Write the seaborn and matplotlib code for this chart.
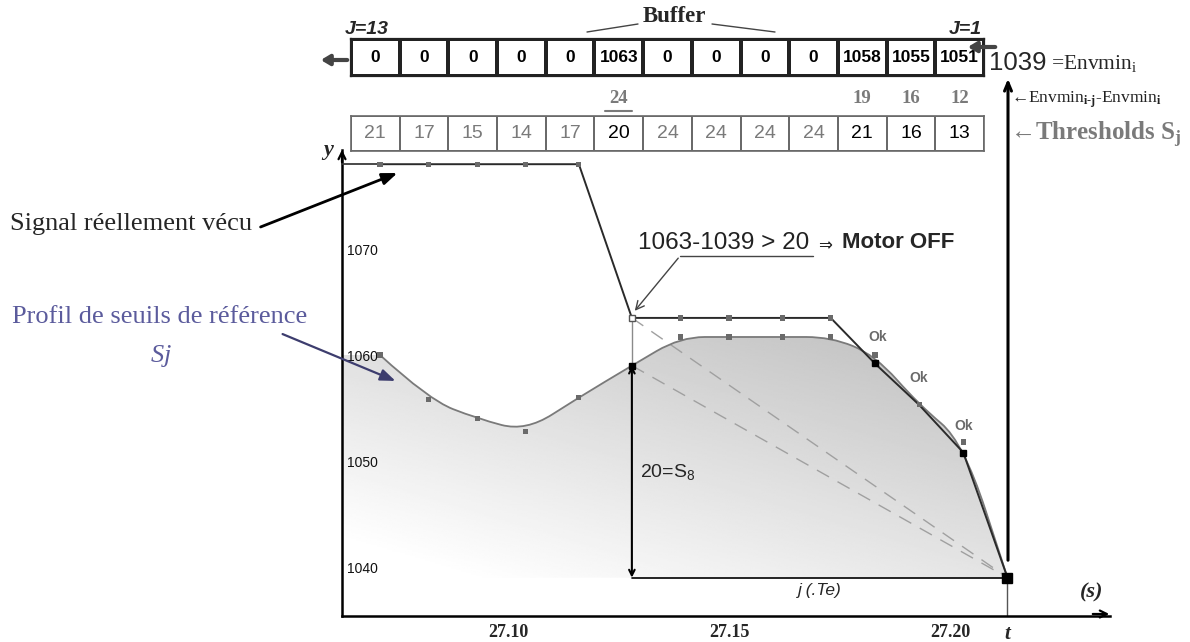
import numpy as np
import matplotlib
matplotlib.use("Agg")
import matplotlib.pyplot as plt
import seaborn as sns
from matplotlib.colors import ListedColormap
from matplotlib.path import Path
from matplotlib.patches import PathPatch

# ── data ─────────────────────────────
t_s = [27.071, 27.082, 27.093, 27.104, 27.116, 27.128, 27.139,
       27.150, 27.162, 27.173, 27.183, 27.193, 27.203, 27.213]
signal = [1078, 1078, 1078, 1078, 1078, 1063.5, 1063.5,
          1063.5, 1063.5, 1063.5, 1059.2, 1055.3, 1050.8, 1039]
profile = [1060, 1055.8, 1054, 1052.8, 1056, 1059, 1061.7,
           1061.7, 1061.7, 1061.7, 1060, 1055.3, 1051.8, 1039]

buffer_vals = [0, 0, 0, 0, 0, 1063, 0, 0, 0, 0, 1058, 1055, 1051]
thresholds = [21, 17, 15, 14, 17, 20, 24, 24, 24, 24, 21, 16, 13]
thr_dark = [False, False, False, False, False, True, False,
            False, False, False, True, True, True]
deltas = {5: "24", 10: "19", 11: "16", 12: "12"}
envmin = 1039

xticks = [27.10, 27.125, 27.15, 27.175, 27.20]
xtick_labels = ["27.10", "", "27.15", "", "27.20"]
yticks = [1040, 1045, 1050, 1055, 1060, 1065, 1070, 1075]
ytick_labels = ["1040", "", "1050", "", "1060", "", "1070", ""]

XLIM = (27.0624, 27.2362)
YLIM = (1035.38, 1079.34)

sns.set_style("white")
plt.rcParams["font.family"] = ["Liberation Sans", "DejaVu Sans"]
plt.rcParams["mathtext.fontset"] = "custom"
plt.rcParams["mathtext.rm"] = "Liberation Serif"
plt.rcParams["mathtext.it"] = "Liberation Serif:italic"
plt.rcParams["mathtext.bf"] = "Liberation Serif:bold"
plt.rcParams["mathtext.sf"] = "Liberation Sans"
SERIF = ["Liberation Serif", "DejaVu Serif"]

W, H = 1190, 642
fig = plt.figure(figsize=(W / 100, H / 100), dpi=100)

# ── main axes ────────────────────────
ax = fig.add_axes([342 / W, 1 - 616 / H, (1110 - 342) / W, (616 - 150) / H])
ax.set_xlim(*XLIM)
ax.set_ylim(*YLIM)
for s in ["top", "right"]:
    ax.spines[s].set_visible(False)
for s in ["left", "bottom"]:
    ax.spines[s].set_linewidth(1.8)
    ax.spines[s].set_color("black")

ax.set_xticks(xticks + [t_s[-1]])
ax.set_xticklabels(xtick_labels + ["t"], fontfamily=SERIF,
                   fontweight="bold", fontsize=13)
tl = ax.get_xticklabels()[-1]
tl.set_fontstyle("italic")
tl.set_fontsize(15)
ax.tick_params(axis="x", direction="inout", length=10, width=1.5, pad=1)
ax.set_yticks(yticks)
ax.set_yticklabels(ytick_labels, fontsize=10, color="#111111")
for lab in ax.get_yticklabels():
    lab.set_horizontalalignment("left")
ax.tick_params(axis="y", direction="inout", length=7, width=1.3, pad=-7)

# gradient fill under the threshold profile
def smooth_verts(xs, ys):
    verts = [(xs[0], ys[0])]
    codes = [Path.LINETO]
    for i in range(1, len(xs) - 1):
        verts += [(xs[i], ys[i]), ((xs[i] + xs[i + 1]) / 2, (ys[i] + ys[i + 1]) / 2)]
        codes += [Path.CURVE3, Path.CURVE3]
    verts.append((xs[-1], ys[-1]))
    codes.append(Path.LINETO)
    return verts, codes

pv, pc = smooth_verts(t_s, profile)
fill_verts = [(XLIM[0], profile[0])] + pv + [(XLIM[0], envmin), (XLIM[0], profile[0])]
fill_codes = [Path.MOVETO] + pc + [Path.LINETO, Path.CLOSEPOLY]
clip = PathPatch(Path(fill_verts, fill_codes), facecolor="none", edgecolor="none",
                 transform=ax.transData)
ax.add_patch(clip)

gx = np.linspace(XLIM[0], XLIM[1], 300)
gy = np.linspace(YLIM[0], YLIM[1], 300)
GX, GY = np.meshgrid(gx, gy)
ny = (GY - 1038) / (1062 - 1038)
nx = (GX - XLIM[0]) / (27.21 - XLIM[0])
shade = 1 - 0.25 * np.clip(0.65 * ny + 0.5 * nx - 0.12, 0, 1)
im = ax.imshow(shade, extent=(*XLIM, *YLIM), origin="lower", aspect="auto",
               cmap="gray", vmin=0, vmax=1, interpolation="bilinear", zorder=0)
im.set_clip_path(clip)

# profile line
ax.add_patch(PathPatch(Path(pv, [Path.MOVETO] + pc[1:]), facecolor="none",
                       edgecolor="#7a7a7a", lw=1.3, zorder=3))
sns.scatterplot(x=t_s[:-1], y=profile[:-1], marker="s", s=14, color="#6a6a6a",
                edgecolor="none", ax=ax, zorder=4)

# real signal
ax.plot([XLIM[0], t_s[0]], [signal[0], signal[0]], color="#3a3a3a", lw=1.3, zorder=3)
sns.lineplot(x=t_s, y=signal, sort=False, color="#2a2a2a", lw=1.4, ax=ax, zorder=3)
sns.scatterplot(x=t_s[:5] + t_s[6:10] + [t_s[11]], y=signal[:5] + signal[6:10] + [signal[11]],
                marker="s", s=14, color="#6a6a6a", edgecolor="none", ax=ax, zorder=4)
ax.plot(t_s[5], signal[5], "s", ms=5, mfc="white", mec="#555555", mew=1, zorder=5)
ax.plot([t_s[10], t_s[12]], [signal[10], signal[12]], "s", ms=5, color="black", zorder=5)
ax.plot(t_s[-1], signal[-1], "s", ms=6.5, color="black", zorder=6)
ax.plot(t_s[5], profile[5], "s", ms=4.5, color="black", zorder=6)

# construction lines
for y0 in (signal[5], profile[5]):
    ax.plot([t_s[5], t_s[-1]], [y0, signal[-1]], color="#a0a0a0", lw=1,
            dashes=(10, 7), zorder=2)
ax.plot([t_s[5], t_s[5]], [signal[5], profile[5]], color="#8a8a8a", lw=1, zorder=2)
ax.annotate("", xy=(t_s[5], profile[5]), xytext=(t_s[5], envmin),
            arrowprops=dict(arrowstyle="<->", color="black", lw=1.5,
                            shrinkA=0, shrinkB=0), zorder=5)
ax.plot([t_s[5], t_s[-1]], [envmin, envmin], color="black", lw=1.2, zorder=5)
ax.plot([t_s[-1], t_s[-1]], [envmin, YLIM[0]], color="#555555", lw=1, zorder=2)
ax.text(t_s[5] + 0.6 * (t_s[-1] - t_s[5]) / 1.2, envmin - 0.5, "j (.Te)", fontstyle="italic",
        fontsize=12.5, ha="center", va="top")
ax.text(t_s[5] + 0.0018, 1049, r"20=$\mathsf{S_8}$", fontsize=14, ha="left", va="center")
for i, dx in zip((10, 11, 12), (2, 0, 0)):
    ax.annotate("Ok", xy=(t_s[i], signal[i]), xytext=(dx, 19), textcoords="offset points",
                ha="center", va="center", fontsize=10, fontweight="bold", color="#6a6a6a")

# ── buffer rows (heatmaps) ───────────
bx0, bx1 = 351, 984
bax = fig.add_axes([bx0 / W, 1 - 76 / H, (bx1 - bx0) / W, (76 - 39) / H])
sns.heatmap(np.zeros((1, len(buffer_vals))), annot=np.array([buffer_vals]), fmt="d",
            cmap=ListedColormap(["white"]), cbar=False, linewidths=1.6, linecolor="#222222",
            xticklabels=False, yticklabels=False, ax=bax,
            annot_kws=dict(fontsize=12.5, fontweight="bold", color="black"))
tax = fig.add_axes([bx0 / W, 1 - 151 / H, (bx1 - bx0) / W, (151 - 116) / H])
sns.heatmap(np.zeros((1, len(thresholds))), annot=np.array([thresholds]), fmt="d",
            cmap=ListedColormap(["white"]), cbar=False, linewidths=1.2, linecolor="#6a6a6a",
            xticklabels=False, yticklabels=False, ax=tax,
            annot_kws=dict(fontsize=14, color="black"))
for txt, dark in zip(tax.texts, thr_dark):
    txt.set_color("black" if dark else "#7a7a7a")
for a, c, lw in ((bax, "#222222", 1.6), (tax, "#6a6a6a", 1.2)):
    for sp in a.spines.values():
        sp.set_visible(True)
        sp.set_color(c)
        sp.set_linewidth(lw)
for i, lab in deltas.items():
    bax.text(i + 0.5, 1.6, lab, ha="center", va="center", fontfamily=SERIF,
             fontweight="bold", fontsize=13.5, color="#7a7a7a", clip_on=False)
bax.plot([5.22, 5.78], [1.95, 1.95], color="#7a7a7a", lw=1.5, clip_on=False)

# ── free annotations (pixel coords) ──
ov = fig.add_axes([0, 0, 1, 1], zorder=10)
ov.set_xlim(0, W)
ov.set_ylim(H, 0)
ov.axis("off")

ov.text(345, 29, "J=13", fontsize=14, fontweight="bold", fontstyle="italic", va="center")
ov.text(982, 29, "J=1", fontsize=14, fontweight="bold", fontstyle="italic", va="center", ha="right")
ov.text(674, 17, "Buffer", fontfamily=SERIF, fontweight="bold", fontsize=16.5, ha="center", va="center")
ov.plot([587, 638], [32, 24], color="#444444", lw=1)
ov.plot([712, 775], [24, 32], color="#444444", lw=1)
ov.annotate("", xy=(318, 60), xytext=(350, 60),
            arrowprops=dict(arrowstyle="-|>,head_length=0.5,head_width=0.3", color="#444444", lw=3))
ov.annotate("", xy=(965, 47), xytext=(998, 47),
            arrowprops=dict(arrowstyle="-|>,head_length=0.5,head_width=0.3", color="#444444", lw=3))
ov.text(989, 63, str(envmin), fontsize=18.5, va="center", ha="left")
ov.text(1051, 64, r"=Envmin$\mathrm{_i}$", fontfamily=SERIF, fontsize=15.5, va="center", ha="left")
ov.text(1011, 100, r"←Envmin$\mathbf{_{i\text{-}j}}$-Envmin$\mathbf{_i}$", fontfamily=SERIF,
        fontsize=12.5, va="center", ha="left", color="#222222")
ov.text(1010, 135, r"←Thresholds S$\mathbf{_j}$", fontfamily=SERIF, fontweight="bold",
        fontsize=18, va="center", ha="left", color="#7a7a7a")
ov.annotate("", xy=(1008, 76), xytext=(1008, 563),
            arrowprops=dict(arrowstyle="->,head_length=0.6,head_width=0.25", color="black", lw=2.2))

ov.text(328, 150, "y", fontfamily=SERIF, fontweight="bold", fontstyle="italic",
        fontsize=16, ha="center", va="center")
ov.annotate("", xy=(342, 147), xytext=(342, 165),
            arrowprops=dict(arrowstyle="->,head_length=0.5,head_width=0.25", color="black", lw=1.6))
ov.annotate("", xy=(1112, 614), xytext=(1090, 614),
            arrowprops=dict(arrowstyle="->,head_length=0.5,head_width=0.25", color="black", lw=1.6))
ov.text(1092, 592, "(s)", fontfamily=SERIF, fontweight="bold", fontstyle="italic",
        fontsize=16, ha="center", va="center")

ov.text(638, 243, "1063-1039 > 20", fontsize=17.5, ha="left", va="center", color="#222222")
ov.plot([680, 813], [256, 256], color="#444444", lw=1)
ov.annotate("", xy=(633, 313), xytext=(680, 256),
            arrowprops=dict(arrowstyle="->,head_length=0.6,head_width=0.3", color="#444444", lw=1))
ov.text(818, 245, "⇒", fontsize=12, ha="left", va="center", color="#222222",
        fontfamily=["DejaVu Sans"])
ov.text(842, 243, "Motor OFF", fontsize=16, fontweight="bold", ha="left", va="center")

ov.text(10, 224, "Signal réellement vécu", fontfamily=SERIF, fontsize=19, ha="left", va="center")
ov.annotate("", xy=(400, 172), xytext=(258, 228),
            arrowprops=dict(arrowstyle="-|>,head_length=0.9,head_width=0.35", color="black", lw=2))
ov.text(12, 317, "Profil de seuils de référence", fontfamily=SERIF, fontsize=19,
        ha="left", va="center", color="#5b5b9c")
ov.text(161, 356, r"$\mathit{Sj}$", fontsize=19, ha="center", va="center", color="#5b5b9c")
ov.annotate("", xy=(398, 382), xytext=(280, 333),
            arrowprops=dict(arrowstyle="-|>,head_length=0.9,head_width=0.35", color="#3d3d6e", lw=1.6))

fig.savefig("out.png", dpi=100)
